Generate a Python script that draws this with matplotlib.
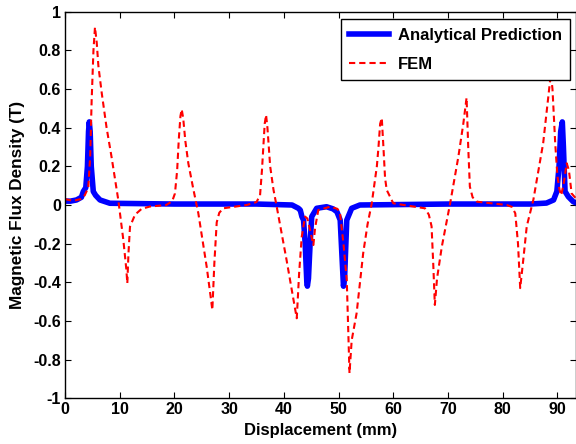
import matplotlib
matplotlib.use("Agg")
import matplotlib.pyplot as plt

plt.rcParams['font.family'] = ['Liberation Sans', 'DejaVu Sans']
plt.rcParams['font.weight'] = 'bold'
plt.rcParams['axes.unicode_minus'] = False

# Analytical prediction (blue)
ana_x = [0.0, 1.0, 2.1, 3.0, 3.35, 3.8, 4.1, 4.3, 4.44, 4.6, 4.8, 5.17, 5.6, 6.4, 8.2,
         20.0, 35.0, 41.5, 42.65, 43.0, 43.3, 43.6, 43.9, 44.2, 44.3, 44.5, 44.8, 45.1,
         46.0, 47.8, 49.0, 49.7, 50.3, 50.6, 50.9, 51.1, 51.5, 52.4, 53.9, 70.0, 85.0,
         88.0, 89.3, 89.9, 90.3, 90.6, 90.9, 91.1, 91.4, 92.0, 92.9, 93.5]
ana_y = [0.02, 0.02, 0.026, 0.04, 0.07, 0.09, 0.2, 0.38, 0.43, 0.38, 0.2, 0.07, 0.05, 0.026, 0.009,
         0.005, 0.005, 0.0, -0.017, -0.026, -0.06, -0.078, -0.2, -0.4, -0.42, -0.38, -0.2, -0.06,
         -0.017, -0.009, -0.02, -0.035, -0.078, -0.25, -0.42, -0.38, -0.078, -0.017, 0.0, 0.005, 0.005,
         0.01, 0.026, 0.07, 0.2, 0.38, 0.43, 0.3, 0.07, 0.043, 0.017, 0.01]

# FEM (red dashed)
fem_x = [0.0, 1.5, 2.8, 3.6, 4.26, 4.6, 4.87, 5.2, 5.48, 5.8, 6.1, 6.71, 7.6, 8.5, 9.74, 10.66,
         11.2, 11.39, 11.6, 11.88, 12.8, 14.0, 15.5, 18.5, 19.6, 20.1, 20.5, 20.8, 21.1, 21.33,
         21.6, 22.0, 22.54, 23.4, 24.37, 25.9, 26.6, 26.93, 27.3, 27.73, 28.2, 28.94, 33.2,
         35.0, 35.65, 36.0, 36.25, 36.5, 36.75, 37.0, 37.5, 38.1, 38.7, 40.5, 41.7, 42.36,
         42.8, 43.27, 43.88, 44.3, 44.8, 45.4, 45.7, 46.3, 48.45, 49.8, 50.27, 50.9, 51.5,
         52.0, 52.4, 53.3, 54.5, 55.3, 56.07, 57.0, 57.3, 57.6, 57.9, 58.2, 58.5, 58.8, 60.0,
         63.0, 65.8, 66.5, 67.0, 67.3, 67.6, 68.0, 68.87, 70.4, 71.9, 72.8, 73.4, 73.7, 74.0,
         74.5, 75.3, 80.75, 81.7, 82.3, 82.8, 83.2, 83.7, 84.4, 85.6, 87.4, 88.3, 88.8, 89.1,
         89.6, 90.0, 90.4, 90.7, 91.2, 91.7, 92.1, 92.6, 93.5]
fem_y = [0.03, 0.022, 0.03, 0.05, 0.09, 0.25, 0.54, 0.8, 0.92, 0.84, 0.72, 0.58, 0.40, 0.25, 0.026, -0.18,
         -0.33, -0.405, -0.25, -0.112, -0.05, -0.02, -0.008, 0.0, 0.02, 0.06, 0.18, 0.34, 0.46, 0.495,
         0.45, 0.33, 0.216, 0.09, -0.043, -0.32, -0.47, -0.543, -0.3, -0.09, -0.04, -0.017, 0.0,
         0.015, 0.05, 0.18, 0.30, 0.42, 0.466, 0.4, 0.2, 0.08, -0.009, -0.285, -0.48, -0.586,
         -0.35, -0.164, -0.06, -0.07, -0.13, -0.207, -0.12, -0.026, -0.009, -0.02, -0.043, -0.2, -0.388,
         -0.87, -0.7, -0.56, -0.25, -0.1, 0.009, 0.2, 0.30, 0.42, 0.45, 0.3, 0.14, 0.078, 0.009,
         -0.005, -0.017, -0.05, -0.11, -0.3, -0.517, -0.38, -0.216, 0.009, 0.25, 0.42, 0.555, 0.3, 0.095,
         0.04, 0.017, 0.0, -0.01, -0.043, -0.2, -0.43, -0.3, -0.11, 0.026, 0.32, 0.55, 0.68, 0.6,
         0.32, 0.15, 0.078, 0.05, 0.12, 0.216, 0.18, 0.06, 0.03]

x_ticks = [0, 10, 20, 30, 40, 50, 60, 70, 80, 90]
y_ticks = [-1, -0.8, -0.6, -0.4, -0.2, 0, 0.2, 0.4, 0.6, 0.8, 1]
y_tick_labels = ['-1', '-0.8', '-0.6', '-0.4', '-0.2', '0', '0.2', '0.4', '0.6', '0.8', '1']

fig = plt.figure(figsize=(5.76, 4.44), dpi=100)
ax = fig.add_axes([65/576, 1 - 398.3/444, 1 - 65/576, (398.3 - 11.7)/444])

ax.plot(ana_x, ana_y, color='#0000ff', linewidth=4, label='Analytical Prediction', solid_joinstyle='round')
ax.plot(fem_x, fem_y, color='#ff0000', linewidth=1.5, linestyle=(0, (3.0, 1.9)), label='FEM')

ax.set_xlim(0, 93.4)
ax.set_ylim(-1, 1)
ax.set_xticks(x_ticks)
ax.set_yticks(y_ticks)
ax.set_yticklabels(y_tick_labels)
ax.tick_params(direction='in', top=True, right=True, length=4, width=0.8, labelsize=11.5, pad=3)
for lab in ax.get_xticklabels() + ax.get_yticklabels():
    lab.set_fontweight('bold')
for s in ax.spines.values():
    s.set_linewidth(1.0)

ax.set_xlabel('Displacement (mm)', fontsize=12, fontweight='bold', labelpad=4)
ax.set_ylabel('Magnetic Flux Density (T)', fontsize=12.3, fontweight='bold', labelpad=6)

leg = ax.legend(loc='upper right', fancybox=False, edgecolor='black', framealpha=1, fontsize=12,
                handlelength=2.4, borderpad=0.5, labelspacing=0.85, handletextpad=0.5,
                borderaxespad=0)
leg.get_frame().set_linewidth(1.0)
leg.set_bbox_to_anchor((570/576, 1 - 19.3/444), transform=fig.transFigure)
for t in leg.get_texts():
    t.set_fontweight('bold')

fig.savefig('out.png', dpi=100)
